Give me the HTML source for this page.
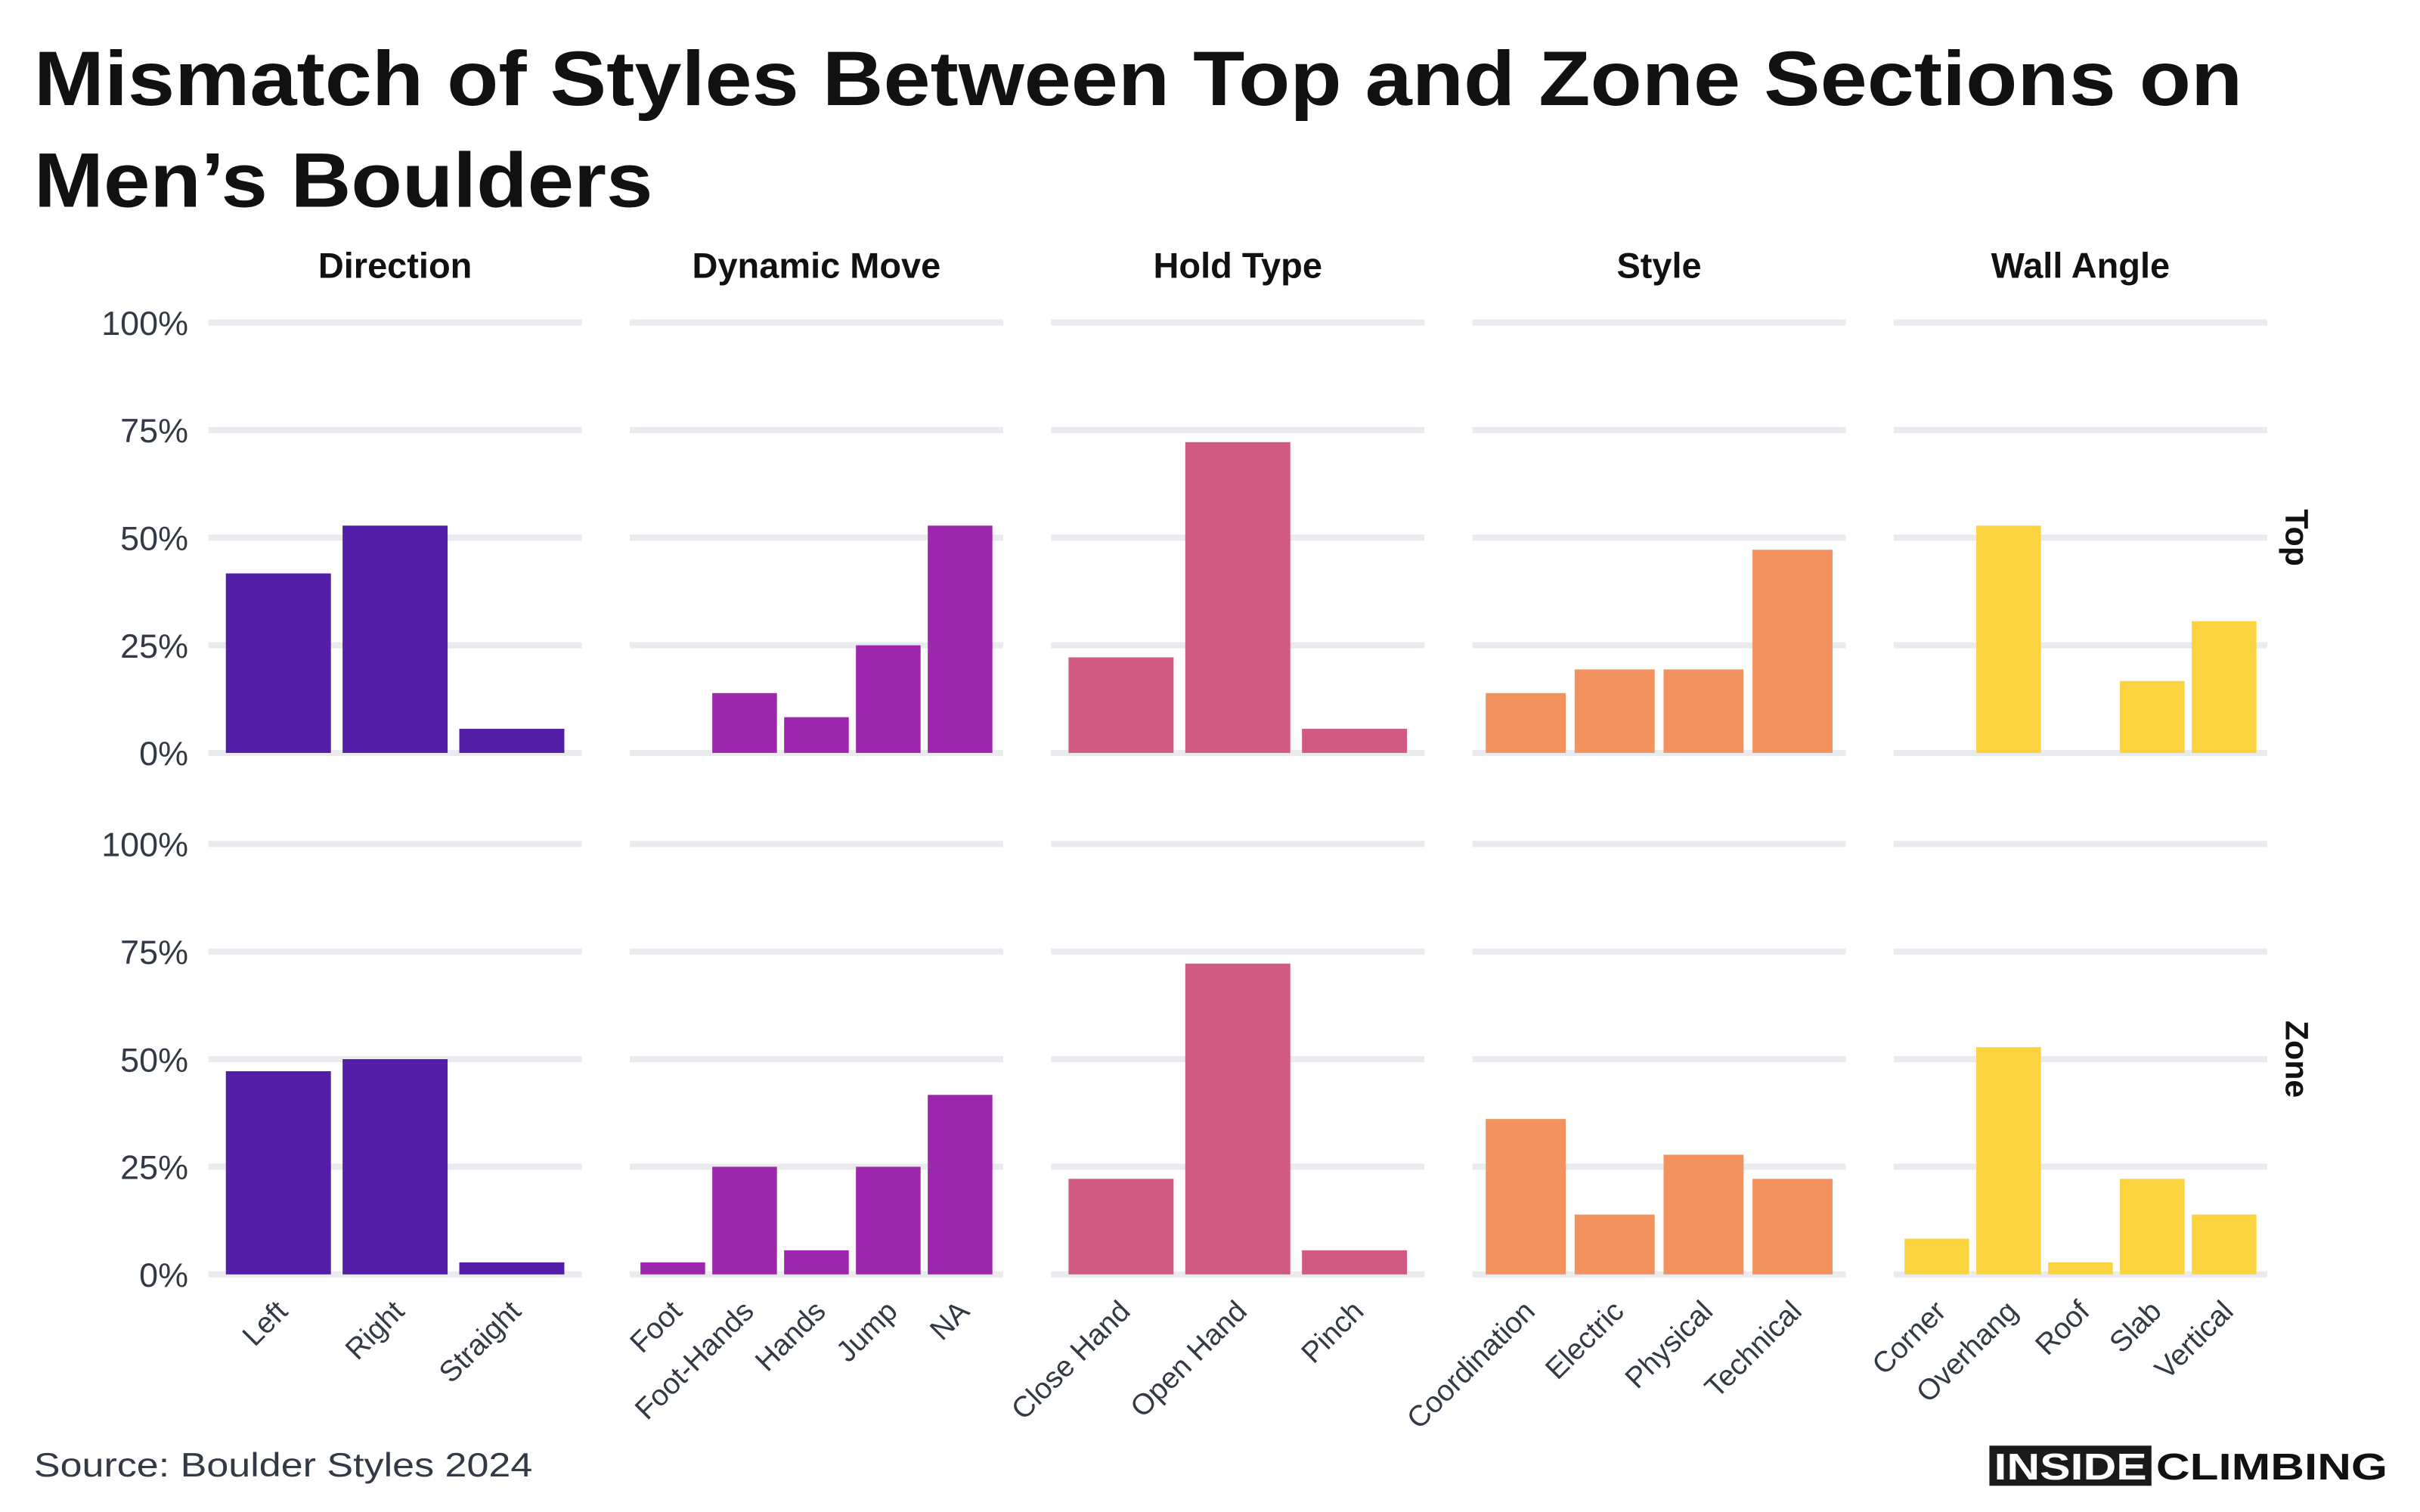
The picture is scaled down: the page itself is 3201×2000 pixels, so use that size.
<!DOCTYPE html>
<html><head><meta charset="utf-8"><style>
html,body{margin:0;padding:0;background:#fff;}
svg{display:block;font-family:"Liberation Sans",Arial,sans-serif;}
</style></head><body>
<svg id="chart" width="3201" height="2000" viewBox="0 0 1568 980" preserveAspectRatio="none" xmlns="http://www.w3.org/2000/svg">
<text x="22" y="68" font-size="50" font-weight="bold" fill="#111" textLength="1431" lengthAdjust="spacingAndGlyphs">Mismatch of Styles Between Top and Zone Sections on</text>
<text x="22" y="134" font-size="50" font-weight="bold" fill="#111" textLength="401" lengthAdjust="spacingAndGlyphs">Men’s Boulders</text>
<text x="22" y="957" font-size="22" fill="#333a45" textLength="323" lengthAdjust="spacingAndGlyphs">Source: Boulder Styles 2024</text>
<g>
<rect x="1289" y="937" width="105" height="26" fill="#1a1a1a"/>
<text x="1292" y="959" font-size="24" font-weight="bold" fill="#fff" textLength="99" lengthAdjust="spacingAndGlyphs">INSIDE</text>
<text x="1397" y="959" font-size="24" font-weight="bold" fill="#111" textLength="150" lengthAdjust="spacingAndGlyphs">CLIMBING</text>
</g>
<g id="plots"></g>
</svg>
<script>
const panels = ["Direction","Dynamic Move","Hold Type","Style","Wall Angle"];
const catsDirection = ["Left","Right","Straight"];
const catsDynamic = ["Foot","Foot-Hands","Hands","Jump","NA"];
const catsHold = ["Close Hand","Open Hand","Pinch"];
const catsStyle = ["Coordination","Electric","Physical","Technical"];
const catsWall = ["Corner","Overhang","Roof","Slab","Vertical"];
const topDirection = [41.7,52.8,5.6];
const topDynamic = [0,13.9,8.3,25,52.8];
const topHold = [22.2,72.2,5.6];
const topStyle = [13.9,19.4,19.4,47.2];
const topWall = [0,52.8,0,16.7,30.6];
const zoneDirection = [47.2,50,2.8];
const zoneDynamic = [2.8,25,5.6,25,41.7];
const zoneHold = [22.2,72.2,5.6];
const zoneStyle = [36.1,13.9,27.8,22.2];
const zoneWall = [8.3,52.8,2.8,22.2,13.9];
const yTicks = [0,25,50,75,100];
const yTickLabels = ["0%","25%","50%","75%","100%"];
const rowNames = ["Top","Zone"];

const cats = [catsDirection,catsDynamic,catsHold,catsStyle,catsWall];
const rows = [[topDirection,topDynamic,topHold,topStyle,topWall],[zoneDirection,zoneDynamic,zoneHold,zoneStyle,zoneWall]];
const colors = ["#531ea8","#9c26ac","#d05a82","#f2935f","#fad33e"];
const NS="http://www.w3.org/2000/svg";
const g=document.getElementById('plots');
function mk(tag,attrs,parent){const e=document.createElementNS(NS,tag);for(const k in attrs)e.setAttribute(k,attrs[k]);(parent||g).appendChild(e);return e;}
const panelX0=135, panelW=242, panelStep=273;
const rowBase=[488,826], rowH=279;
function yScale(r,v){return rowBase[r]-v/100*rowH;}
function xScale(p,i,n){const band=panelW/(n+0.2);return panelX0+p*panelStep+band*(i+0.6);}
function bandW(n){return panelW/(n+0.2);}

for(let r=0;r<2;r++){
  yTicks.forEach((t,k)=>{
    const tx=mk('text',{x:122,y:yScale(r,t)+8,'font-size':22,fill:'#333a45','text-anchor':'end'});
    
    
    tx.textContent=yTickLabels[k];
  });
  for(let p=0;p<5;p++){
    const x0=panelX0+p*panelStep;
    yTicks.forEach(t=>{
      const l=mk('rect',{x:x0,y:yScale(r,t)-2,width:panelW,height:4,fill:'#e9ebef'});
      
      
    });
    const n=cats[p].length, bw=bandW(n)*0.9;
    rows[r][p].forEach((v,i)=>{
      const cx=xScale(p,i,n);
      const b=mk('rect',{x:cx-bw/2,y:yScale(r,v),width:bw,height:Math.max(0,yScale(r,0)-yScale(r,v)),fill:colors[p]});
      
      
    });
  }
  const rl=mk('text',{x:0,y:0,'font-size':21,'font-weight':'bold',fill:'#111','text-anchor':'middle',transform:`translate(1481,${rowBase[r]-rowH/2}) rotate(90)`});
  
  
  rl.textContent=rowNames[r];
}
for(let p=0;p<5;p++){
  const h=mk('text',{x:panelX0+p*panelStep+panelW/2,y:180,'font-size':23,'font-weight':'bold',fill:'#111','text-anchor':'middle'});
  
  
  h.textContent=panels[p];
  const n=cats[p].length;
  cats[p].forEach((c,i)=>{
    const cx=xScale(p,i,n)+7;
    const t=mk('text',{x:0,y:0,'font-size':19,fill:'#333a45','text-anchor':'end',transform:`translate(${cx},${851}) rotate(-45)`});
    
    
    t.textContent=c;
  });
}
</script>
</body></html>
